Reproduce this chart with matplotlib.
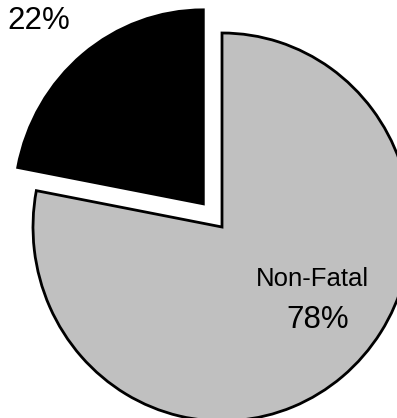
import matplotlib
matplotlib.use("Agg")
import matplotlib.pyplot as plt

# Injury outcome shares (percent)
categories = ["Fatal", "Non-Fatal"]
shares = [22, 78]
slice_colors = ["#000000", "#C0C0C0"]
explode = [0.155, 0.0]

plt.rcParams["font.family"] = ["Liberation Sans", "DejaVu Sans"]

W, H = 397, 418
fig = plt.figure(figsize=(W / 100, H / 100), dpi=100)
ax = fig.add_axes([0, 0, 1, 1])

wedges, _ = ax.pie(
    shares,
    colors=slice_colors,
    explode=explode,
    startangle=90,
    counterclock=True,
    radius=1.0,
    wedgeprops=dict(edgecolor="black", linewidth=2.0, joinstyle="miter"),
)

# Slightly oval pie, cropped by the figure edges
ax.set_aspect("auto")
ax.set_xlim(-1.1746, 0.9259)
ax.set_ylim(-0.9845, 1.1701)
ax.axis("off")

# Percentage / name labels
ax.text(-0.971, 1.0206, f"{shares[0]}%", ha="center", va="baseline",
        fontsize=22.5, color="black")
ax.text(0.479, -0.304, categories[1], ha="center", va="baseline",
        fontsize=18.5, color="black")
ax.text(0.505, -0.521, f"{shares[1]}%", ha="center", va="baseline",
        fontsize=22.5, color="black")

fig.savefig("out.png", dpi=100, facecolor="white")
